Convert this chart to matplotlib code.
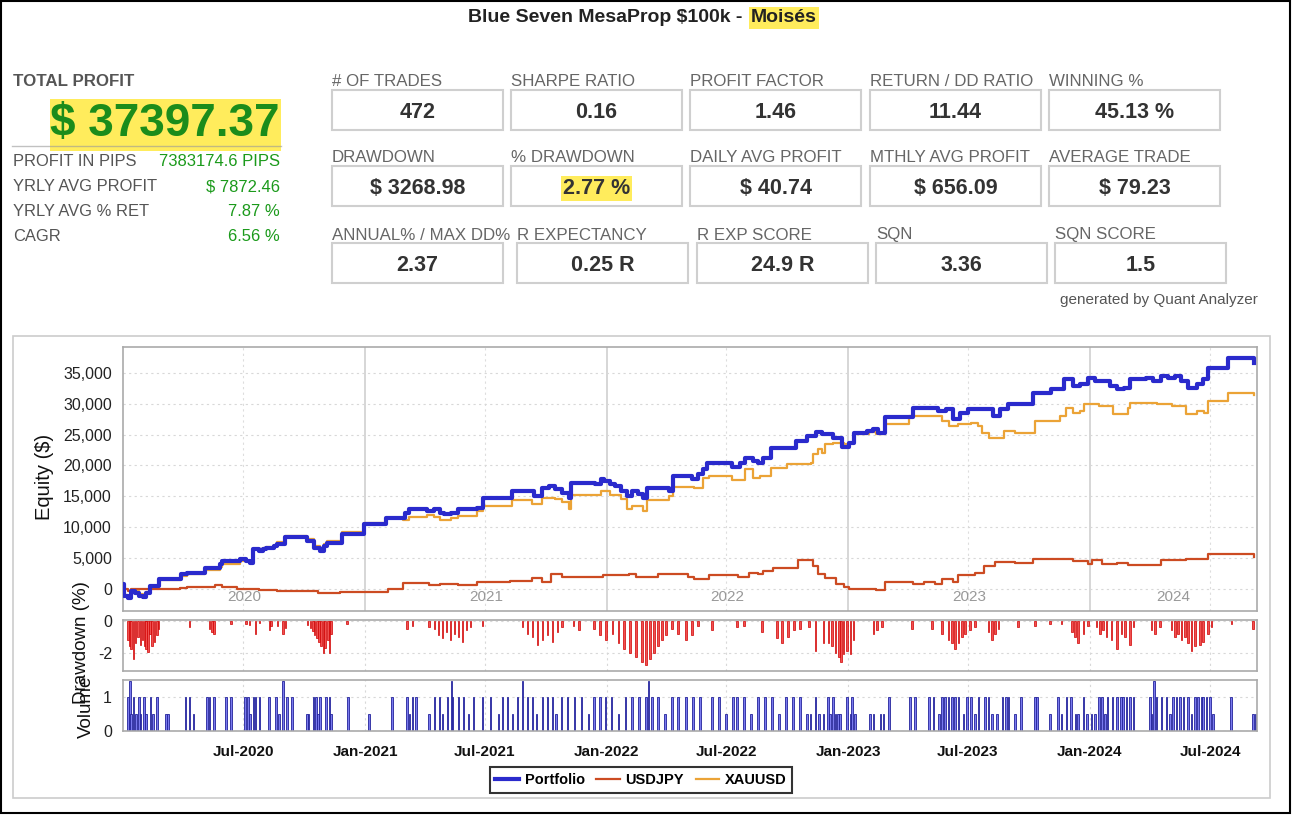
import numpy as np
import pandas as pd
import matplotlib
matplotlib.use('Agg')
import matplotlib.pyplot as plt
import matplotlib.dates as mdates
from matplotlib.patches import Rectangle
from matplotlib.lines import Line2D

plt.rcParams['font.family'] = ['Liberation Sans', 'DejaVu Sans']
plt.rcParams['text.parse_math'] = False

# ---------------- data ----------------
title_main = 'Blue Seven MesaProp $100k - '
title_name = 'Moisés'
total_profit = '$ 37397.37'

left_labels = ['PROFIT IN PIPS', 'YRLY AVG PROFIT', 'YRLY AVG % RET', 'CAGR']
left_values = ['7383174.6 PIPS', '$ 7872.46', '7.87 %', '6.56 %']

row1_labels = ['# OF TRADES', 'SHARPE RATIO', 'PROFIT FACTOR', 'RETURN / DD RATIO', 'WINNING %']
row1_values = ['472', '0.16', '1.46', '11.44', '45.13 %']
row2_labels = ['DRAWDOWN', '% DRAWDOWN', 'DAILY AVG PROFIT', 'MTHLY AVG PROFIT', 'AVERAGE TRADE']
row2_values = ['$ 3268.98', '2.77 %', '$ 40.74', '$ 656.09', '$ 79.23']
row3_labels = ['ANNUAL% / MAX DD%', 'R EXPECTANCY', 'R EXP SCORE', 'SQN', 'SQN SCORE']
row3_values = ['2.37', '0.25 R', '24.9 R', '3.36', '1.5']

# time in years since 2020-01-01
pf_t = [0.0, 0.004, 0.020, 0.035, 0.050, 0.066, 0.081, 0.096, 0.112, 0.150, 0.242, 0.265, 0.341,
        0.402, 0.410, 0.486, 0.509, 0.524, 0.540, 0.563, 0.578, 0.593, 0.624, 0.639, 0.670, 0.731,
        0.761, 0.792, 0.815, 0.830, 0.846, 0.907, 0.998, 1.090, 1.167, 1.182, 1.258, 1.289, 1.312,
        1.327, 1.358, 1.388, 1.465, 1.488, 1.610, 1.702, 1.732, 1.763, 1.786, 1.817, 1.847, 1.855,
        1.954, 1.977, 1.992, 2.015, 2.038, 2.061, 2.084, 2.107, 2.130, 2.153, 2.168, 2.260, 2.275,
        2.356, 2.379, 2.401, 2.416, 2.522, 2.552, 2.575, 2.605, 2.627, 2.648, 2.680, 2.785, 2.830,
        2.869, 2.891, 2.937, 2.974, 3.005, 3.027, 3.080, 3.103, 3.125, 3.155, 3.268, 3.374, 3.404,
        3.434, 3.465, 3.495, 3.600, 3.630, 3.661, 3.766, 3.842, 3.894, 3.932, 3.962, 3.992, 4.023,
        4.083, 4.113, 4.143, 4.166, 4.234, 4.264, 4.294, 4.324, 4.354, 4.377, 4.407, 4.445, 4.468,
        4.490, 4.573, 4.679]
pf_v = [700, -1190, -1460, -380, -650, -1190, -1350, -650, 430, 1510, 2320, 2600, 3400,
        3950, 4490, 4760, 4490, 4220, 6380, 6110, 6380, 6540, 6920, 7300, 8380, 8380,
        7730, 6540, 6110, 6920, 7460, 8920, 10430, 11510, 12320, 12860, 12590, 12860, 12320,
        12050, 12320, 12860, 13130, 14650, 15840, 15030, 16380, 16650, 16110, 15570, 14650, 17190,
        16920, 17730, 17460, 16920, 16650, 15840, 15030, 15840, 15300, 14760, 16380, 15840, 18270,
        17730, 18540, 19350, 20430, 19730, 20430, 21240, 20700, 20430, 21240, 22860, 23940, 24750,
        25460, 25020, 24480, 22970, 23670, 25300, 25570, 25840, 25300, 27840, 29350, 28810, 29080,
        27460, 28540, 29080, 27980, 29080, 29890, 31780, 32320, 33940, 32860, 33130, 34210, 33670,
        32860, 32320, 32590, 33940, 34210, 33670, 34480, 34210, 34480, 33670, 32590, 33130, 33940,
        35840, 37350, 36650]

xau_t = [0.0, 0.004, 0.020, 0.035, 0.050, 0.066, 0.081, 0.096, 0.112, 0.150, 0.242, 0.265, 0.341,
         0.402, 0.410, 0.486, 0.509, 0.524, 0.540, 0.578, 0.593, 0.624, 0.639, 0.670, 0.731, 0.761,
         0.792, 0.815, 0.830, 0.846, 0.907, 0.998, 1.090, 1.159, 1.182, 1.258, 1.289, 1.312, 1.358,
         1.388, 1.465, 1.488, 1.610, 1.694, 1.732, 1.786, 1.817, 1.847, 1.855, 1.977, 2.015, 2.061,
         2.084, 2.107, 2.153, 2.168, 2.260, 2.275, 2.363, 2.401, 2.424, 2.522, 2.575, 2.605, 2.635,
         2.680, 2.748, 2.846, 2.854, 2.876, 2.891, 2.906, 2.937, 2.982, 3.005, 3.027, 3.087, 3.118,
         3.155, 3.253, 3.359, 3.389, 3.419, 3.457, 3.510, 3.540, 3.555, 3.585, 3.646, 3.691, 3.774,
         3.879, 3.902, 3.932, 3.962, 3.977, 4.038, 4.098, 4.158, 4.166, 4.279, 4.339, 4.400, 4.445,
         4.475, 4.490, 4.573, 4.679]
xau_v = [0, -1000, -1100, -200, -400, -900, -1100, -500, 500, 1450, 2150, 2400, 3100,
         3500, 4050, 4550, 4500, 4300, 6500, 6600, 6800, 7150, 7550, 8600, 8600, 8000,
         6900, 6500, 7300, 7800, 9200, 10700, 11400, 11080, 11700, 11900, 11600, 11080, 11500,
         11780, 12590, 13400, 14380, 13670, 14760, 14500, 14000, 12970, 15140, 15840, 15200, 14600,
         12860, 13400, 12590, 14320, 15000, 16490, 16380, 18000, 18270, 17570, 19350, 18000, 18270,
         19620, 20160, 20430, 21900, 22600, 22000, 23400, 23670, 23400, 23670, 25020, 25460, 25130,
         26650, 28000, 28000, 27190, 26380, 26650, 26920, 26380, 25300, 24380, 25570, 25300, 27190,
         28000, 29350, 28540, 28810, 29890, 29620, 28270, 29350, 30160, 29890, 29620, 28270, 28810,
         28540, 30430, 31780, 31400]

jpy_t = [0.0, 0.020, 0.035, 0.234, 0.265, 0.379, 0.410, 0.471, 0.563, 0.639, 0.807, 0.899, 1.083,
         1.098, 1.159, 1.266, 1.312, 1.388, 1.465, 1.602, 1.694, 1.732, 1.771, 1.817, 1.985, 2.092,
         2.122, 2.214, 2.336, 2.363, 2.424, 2.544, 2.590, 2.627, 2.648, 2.688, 2.793, 2.854, 2.876,
         2.906, 2.952, 2.982, 3.005, 3.087, 3.118, 3.155, 3.268, 3.314, 3.359, 3.389, 3.434, 3.457,
         3.525, 3.563, 3.608, 3.691, 3.766, 3.932, 3.992, 4.008, 4.053, 4.113, 4.158, 4.294, 4.400,
         4.490, 4.656, 4.679]
jpy_v = [-100, -380, -100, 160, 270, 600, 270, -100, -270, -380, -650, -490, -490,
         -100, 970, 540, 810, 600, 1140, 1240, 1780, 1140, 2430, 1890, 2220, 2320,
         1890, 2320, 1890, 1510, 2220, 1890, 2590, 2430, 2860, 3300, 4590, 3680, 2430,
         1780, 810, 270, -110, 0, -270, 1140, 810, 1140, 810, 1510, 1140, 2220,
         2590, 3680, 4380, 4220, 4760, 4490, 3950, 4590, 3950, 4220, 3840, 4590, 4760,
         5570, 5570, 5130]

dd_t = [0.021, 0.028, 0.034, 0.044, 0.052, 0.062, 0.072, 0.080, 0.090, 0.096, 0.103, 0.113, 0.121,
        0.131, 0.140, 0.147, 0.275, 0.358, 0.368, 0.376, 0.448, 0.510, 0.523, 0.548, 0.565, 0.606,
        0.613, 0.640, 0.661, 0.672, 0.764, 0.776, 0.785, 0.792, 0.802, 0.810, 0.820, 0.829, 0.837,
        0.847, 0.854, 0.861, 0.927, 1.175, 1.198, 1.267,
        1.289, 1.306, 1.322, 1.339, 1.355, 1.372, 1.388, 1.405, 1.421, 1.438, 1.488,
        1.653, 1.674, 1.694, 1.715, 1.736, 1.756, 1.777, 1.798, 1.818, 1.864, 1.888,
        1.950, 1.975, 2.000, 2.025, 2.050, 2.074, 2.099, 2.124, 2.149, 2.165, 2.182, 2.198,
        2.215, 2.231, 2.248, 2.273, 2.298, 2.331, 2.355, 2.380,
        2.438, 2.541, 2.570, 2.645, 2.707, 2.727, 2.752, 2.777, 2.802,
        2.838, 2.865, 2.899, 2.920, 2.934, 2.948, 2.962, 2.972, 2.982, 2.996, 3.010, 3.023, 3.106,
        3.120, 3.140, 3.264, 3.347, 3.388, 3.416, 3.430, 3.444, 3.457, 3.471, 3.485, 3.505, 3.526,
        3.581, 3.595, 3.609, 3.623, 3.705, 3.774, 3.836, 3.884, 3.926, 3.939, 3.953, 3.974, 3.994,
        4.029, 4.043, 4.056, 4.070, 4.091, 4.112, 4.132, 4.146, 4.167, 4.181, 4.256, 4.270, 4.290,
        4.339, 4.353, 4.366, 4.380, 4.394, 4.408, 4.421, 4.435, 4.456, 4.470, 4.490, 4.504, 4.587,
        4.676]
dd_v = [-1.2, -1.6, -1.8, -2.4, -1.4, -1.0, -1.5, -1.2, -1.6, -1.8, -1.95, -0.8, -1.6,
        -1.3, -0.9, -0.5, -0.37, -0.5, -0.7, -0.8, -0.2, -0.2, -0.25, -0.8, -0.15, -0.6,
        -0.35, -0.35, -0.8, -0.45, -0.25, -0.45, -0.65, -0.9, -1.1, -1.3, -1.6, -2.0, -1.7,
        -1.2, -2.0, -0.8, -0.2, -0.5, -0.35, -0.4,
        -0.5, -0.9, -1.1, -0.7, -1.2, -0.8, -1.0, -1.3, -0.6, -0.4, -0.3,
        -0.4, -0.8, -1.0, -1.5, -1.2, -0.9, -1.3, -0.7, -0.4, -0.3, -0.6,
        -0.5, -0.9, -1.2, -0.8, -1.4, -1.8, -2.0, -2.3, -2.6, -2.8, -2.4, -2.0,
        -1.6, -1.2, -0.9, -0.5, -0.8, -1.2, -0.9, -0.3,
        -0.6, -0.4, -0.3, -0.7, -1.1, -1.4, -1.0, -0.6, -0.5,
        -0.4, -1.9, -1.4, -1.4, -1.6, -2.0, -2.3, -2.6, -2.1, -1.9, -2.1, -1.2, -0.8,
        -0.6, -0.4, -0.5, -0.5, -0.8, -1.2, -1.4, -1.8, -1.4, -1.0, -0.8, -0.6, -0.4,
        -0.7, -1.2, -0.8, -0.5, -0.4, -0.3, -0.2, -0.2, -0.7, -1.0, -1.4, -0.8, -0.3,
        -0.4, -0.8, -0.6, -1.0, -1.2, -1.8, -0.8, -1.0, -1.5, -0.4, -0.6, -0.8, -0.4,
        -0.6, -1.0, -0.8, -1.2, -1.0, -1.4, -1.9, -1.6, -1.5, -1.3, -0.8, -0.4, -0.2,
        -0.5]

vol_t = [0.021, 0.028, 0.034, 0.044, 0.055, 0.066, 0.073, 0.087, 0.094, 0.114, 0.124, 0.140, 0.179,
         0.186, 0.259, 0.275, 0.292, 0.347, 0.358, 0.376, 0.427, 0.448, 0.506, 0.517, 0.526, 0.540,
         0.548, 0.565, 0.603, 0.634, 0.645, 0.661, 0.678, 0.700, 0.761, 0.768, 0.788, 0.799, 0.806,
         0.816, 0.840, 0.854, 0.861, 0.930, 1.019, 1.112, 1.175, 1.185, 1.198, 1.212, 1.267,
         1.289, 1.310, 1.322, 1.343, 1.360, 1.364, 1.388, 1.409, 1.430, 1.450, 1.488, 1.521, 1.554,
         1.570, 1.591, 1.612, 1.632, 1.653, 1.674, 1.694, 1.711, 1.736, 1.756, 1.777, 1.793,
         1.814, 1.839, 1.868, 1.897, 1.926, 1.950, 1.975, 1.996, 2.021, 2.050, 2.079, 2.107,
         2.136, 2.165, 2.174, 2.190, 2.215, 2.244, 2.273, 2.298, 2.331, 2.360, 2.388, 2.438, 2.467,
         2.496, 2.525, 2.541, 2.570, 2.599, 2.628, 2.657, 2.686, 2.715, 2.744, 2.773, 2.802,
         2.831, 2.845, 2.865, 2.879, 2.899, 2.917, 2.927, 2.937, 2.948, 2.959, 2.968, 2.996, 3.010,
         3.017, 3.030, 3.092, 3.106, 3.134, 3.147, 3.171, 3.257, 3.278, 3.336, 3.354, 3.377, 3.388,
         3.402, 3.416, 3.430, 3.444, 3.457, 3.478, 3.492, 3.510, 3.526, 3.540, 3.567, 3.581, 3.595,
         3.616, 3.639, 3.653, 3.664, 3.691, 3.716, 3.774, 3.782, 3.836, 3.870, 3.884, 3.905, 3.923,
         3.942, 3.953, 3.974, 3.988, 4.008, 4.022, 4.040, 4.050, 4.063, 4.074, 4.094, 4.112, 4.130,
         4.139, 4.153, 4.167, 4.181, 4.249, 4.256, 4.267, 4.277, 4.298, 4.318, 4.332, 4.346, 4.360,
         4.374, 4.388, 4.408, 4.421, 4.435, 4.449, 4.463, 4.470, 4.483, 4.497, 4.511, 4.584, 4.676,
         4.686]
vol_v = [1.0, 1.5, 0.5, 1.0, 0.5, 1.0, 0.5, 1.0, 0.5, 1.0, 0.5, 1.0, 0.5,
         0.5, 1.0, 1.0, 0.5, 1.0, 1.0, 1.0, 1.0, 1.0, 1.0, 1.0, 0.5, 1.0,
         1.0, 1.0, 1.0, 1.0, 0.5, 1.5, 1.0, 1.0, 0.5, 0.5, 1.0, 1.0, 0.5,
         1.0, 1.0, 1.0, 0.5, 1.0, 0.5, 1.0, 1.0, 0.5, 1.0, 1.0, 0.5,
         1.0, 1.0, 0.5, 1.0, 1.5, 1.0, 1.0, 1.0, 0.5, 1.0, 1.0, 1.0, 0.5,
         1.0, 1.0, 0.5, 1.0, 1.5, 1.0, 1.0, 0.5, 1.0, 1.0, 1.0, 0.5,
         1.0, 1.0, 1.0, 1.0, 0.5, 1.0, 1.0, 1.0, 1.0, 0.5, 1.0, 1.0,
         1.0, 1.0, 1.5, 1.0, 1.0, 0.5, 1.0, 1.0, 1.0, 1.0, 1.0, 1.0, 1.0,
         0.5, 1.0, 1.0, 1.0, 0.5, 1.0, 1.0, 1.0, 0.5, 1.0, 1.0, 1.0,
         0.5, 0.5, 1.0, 0.5, 0.5, 1.0, 0.5, 1.0, 0.5, 0.5, 0.5, 1.0, 0.5,
         1.0, 0.5, 0.5, 0.5, 0.5, 0.5, 1.0, 1.0, 1.0, 1.0, 1.0, 0.5, 1.0,
         1.0, 1.0, 1.0, 1.0, 1.0, 0.5, 1.0, 1.0, 0.5, 1.0, 1.0, 1.0, 0.5,
         0.5, 1.0, 1.0, 1.0, 0.5, 1.0, 1.0, 1.0, 0.5, 1.0, 0.5, 1.0, 1.0,
         0.5, 0.5, 1.0, 0.5, 0.5, 0.5, 1.0, 1.0, 0.5, 1.0, 1.0, 1.0, 1.0,
         1.0, 1.0, 1.0, 1.0, 1.0, 0.5, 1.5, 1.0, 1.0, 1.0, 0.5, 1.0, 1.0,
         1.0, 1.0, 1.0, 0.5, 1.0, 1.0, 1.0, 1.0, 1.0, 1.0, 0.5, 1.0, 0.5,
         0.5]


def to_dates(t):
    return pd.Timestamp('2020-01-01') + pd.to_timedelta(np.array(t) * 365.25, unit='D')


W, H = 1292, 815
fig = plt.figure(figsize=(W / 100, H / 100), dpi=100)


def fx(x):
    return x / W


def fy(y):
    return 1 - y / H


def box(x0, y0, x1, y1, **kw):
    r = Rectangle((fx(x0), fy(y1)), (x1 - x0) / W, (y1 - y0) / H,
                  transform=fig.transFigure, **kw)
    fig.add_artist(r)
    return r


# outer frame and chart panel
box(1, 1, 1290, 813, fill=False, edgecolor='black', linewidth=1.5)
box(13, 336, 1270, 798, fill=False, edgecolor='#cccccc', linewidth=1.2)

# ---------------- title ----------------
fig.text(fx(748), fy(18), title_main, ha='right', va='center', fontsize=14,
         fontweight='bold', color='#222222')
fig.text(fx(751), fy(18), title_name, ha='left', va='center', fontsize=14,
         fontweight='bold', color='#222222',
         bbox=dict(facecolor='#ffec5c', edgecolor='none', pad=1.5))

# ---------------- left stats ----------------
fig.text(fx(13), fy(82), 'TOTAL PROFIT', ha='left', va='center', fontsize=12.2,
         fontweight='bold', color='#555555')
box(50, 99, 281, 151, facecolor='#ffec5c', edgecolor='none')
fig.add_artist(Line2D([fx(12), fx(281)], [fy(146), fy(146)], transform=fig.transFigure,
                      color='#999999', linewidth=1, alpha=0.6))
fig.text(fx(280), fy(124), total_profit, ha='right', va='center', fontsize=33,
         fontweight='bold', color='#1b8c1b')
for i, (lab, val) in enumerate(zip(left_labels, left_values)):
    yy = 162 + i * 24.7
    fig.text(fx(13), fy(yy), lab, ha='left', va='center', fontsize=11.9, color='#555555')
    fig.text(fx(280), fy(yy), val, ha='right', va='center', fontsize=12, color='#1b9a1b')

# ---------------- stat boxes ----------------
rows = [(row1_labels, row1_values, 90, [332, 511, 690, 870, 1049]),
        (row2_labels, row2_values, 166, [332, 511, 690, 870, 1049]),
        (row3_labels, row3_values, 243, [332, 517, 697, 876, 1055])]
for labels, values, top, xs in rows:
    for lab, val, x0 in zip(labels, values, xs):
        box(x0, top, x0 + 171, top + 40, facecolor='white', edgecolor='#cfcfcf', linewidth=1.5)
        fig.text(fx(x0), fy(top - 8), lab, ha='left', va='center', fontsize=12.2, color='#666666')
        kw = {}
        if val == '2.77 %':
            kw['bbox'] = dict(facecolor='#ffec5c', edgecolor='none', pad=1.5)
        fig.text(fx(x0 + 85.5), fy(top + 22.5), val, ha='center', va='center', fontsize=15.5,
                 fontweight='bold', color='#333333', **kw)

fig.text(fx(1258), fy(300), 'generated by Quant Analyzer', ha='right', va='center',
         fontsize=11, color='#555555')

# ---------------- charts ----------------
x_left, x_right = 123, 1257
ax_eq = fig.add_axes([fx(x_left), fy(611), (x_right - x_left) / W, (611 - 347) / H])
ax_dd = fig.add_axes([fx(x_left), fy(671), (x_right - x_left) / W, (671 - 620) / H], sharex=ax_eq)
ax_vol = fig.add_axes([fx(x_left), fy(731), (x_right - x_left) / W, (731 - 680) / H], sharex=ax_eq)

pf_d, xau_d, jpy_d = to_dates(pf_t), to_dates(xau_t), to_dates(jpy_t)
l_jpy, = ax_eq.plot(jpy_d, jpy_v, drawstyle='steps-post', color='#cc4b22', linewidth=1.6,
                    label='USDJPY', zorder=3)
l_xau, = ax_eq.plot(xau_d, xau_v, drawstyle='steps-post', color='#eba336', linewidth=1.6,
                    label='XAUUSD', zorder=3)
l_pf, = ax_eq.plot(pf_d, pf_v, drawstyle='steps-post', color='#2a2acc', linewidth=3,
                   label='Portfolio', zorder=4)

ax_dd.bar(to_dates(dd_t), dd_v, width=2.5, color='#f05050', edgecolor='#d00000', linewidth=0.5)
ax_vol.bar(to_dates(vol_t), vol_v, width=2.5, color='#7a7aee', edgecolor='#22229a', linewidth=0.6)

start, end = pd.Timestamp('2020-01-01'), pd.Timestamp('2024-09-10')
ax_eq.set_xlim(start, end)
ax_eq.set_ylim(-3600, 39200)
ax_dd.set_ylim(-3.15, 0.05)
ax_vol.set_ylim(0, 1.52)

ax_eq.set_yticks(np.arange(0, 35001, 5000))
ax_eq.yaxis.set_major_formatter(matplotlib.ticker.FuncFormatter(lambda v, p: f'{v:,.0f}'))
ax_dd.set_yticks([0, -2])
ax_dd.set_yticklabels(['0', '-2'])
ax_vol.set_yticks([0, 1])

half_years = pd.date_range('2020-07-01', '2024-07-01', freq='6MS')
jans = [d for d in half_years if d.month == 1]
juls = [d for d in half_years if d.month == 7]

for ax in (ax_eq, ax_dd, ax_vol):
    for s in ax.spines.values():
        s.set_color('#aaaaaa')
        s.set_linewidth(1.2)
    ax.tick_params(axis='y', labelsize=11.5, length=0, pad=8, labelcolor='#222222')
    ax.yaxis.grid(True, linestyle=(0, (2, 3)), color='#d8d8d8', linewidth=0.8)
    ax.set_axisbelow(True)

# vertical grid lines
for d in jans:
    ax_eq.axvline(d, color='#d0d0d0', linewidth=1.2, zorder=0)
for d in juls:
    ax_eq.axvline(d, color='#dddddd', linewidth=0.8, linestyle=(0, (2, 3)), zorder=0)
for ax in (ax_dd, ax_vol):
    for d in half_years:
        ax.axvline(d, color='#d8d8d8', linewidth=0.8, linestyle=(0, (2, 3)), zorder=0)

ax_eq.tick_params(axis='x', which='both', bottom=False, labelbottom=False)
ax_dd.tick_params(axis='x', which='both', bottom=False, labelbottom=False)
ax_vol.set_xticks(half_years)
ax_vol.xaxis.set_major_formatter(mdates.DateFormatter('%b-%Y'))
ax_vol.tick_params(axis='x', labelsize=11, length=0, pad=10, labelcolor='#111111')
for lbl in ax_vol.get_xticklabels():
    lbl.set_fontweight('bold')

# year labels inside equity panel
for yr in range(2020, 2025):
    a = max(start, pd.Timestamp(f'{yr}-01-01'))
    b = min(end, pd.Timestamp(f'{yr + 1}-01-01'))
    mid = a + (b - a) / 2
    ax_eq.text(mid, 0.053, str(yr), transform=ax_eq.get_xaxis_transform(), ha='center',
               va='center', fontsize=11, color='#999999')

fig.text(fx(45), fy(477), 'Equity ($)', rotation=90, ha='center', va='center', fontsize=14.5,
         color='#111111')
# the two panel labels overlap in the original report as well
fig.text(fx(81), fy(643), 'Drawdown (%)', rotation=90, ha='center', va='center', fontsize=13.5,
         color='#111111')
fig.text(fx(86), fy(707), 'Volume', rotation=90, ha='center', va='center', fontsize=13.5,
         color='#111111')

leg = fig.legend(handles=[l_pf, l_jpy, l_xau], labels=['Portfolio', 'USDJPY', 'XAUUSD'],
                 loc='center', bbox_to_anchor=(fx(641), fy(780)), ncol=3,
                 prop={'size': 10.5, 'weight': 'bold'},
                 frameon=True, fancybox=False, handlelength=1.6, columnspacing=0.8,
                 borderpad=0.4, handletextpad=0.4)
leg.get_frame().set_edgecolor('black')
leg.get_frame().set_linewidth(1.5)

plt.savefig('out.png', dpi=100)
